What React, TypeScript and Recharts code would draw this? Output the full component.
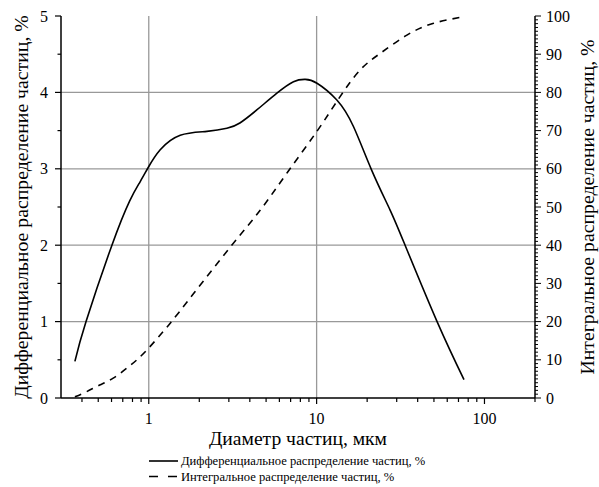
import { LineChart, Line, XAxis, YAxis, ReferenceLine } from "recharts";

// Particle size distribution: differential (left axis, %) and cumulative (right axis, %)
const FONT = "Liberation Serif";
const INK = "#000";
const GRID = "#999";

const diffSize = [0.363, 0.423, 0.601, 0.77, 0.888, 1.0, 1.17, 1.54, 2.22, 2.92, 3.49, 4.4, 5.8, 7.28, 8.56, 10.05, 13.2, 16.6, 21.3, 27.4, 33.8, 52.2, 75.5];
const diffPct = [0.48, 1.0, 1.99, 2.58, 2.83, 3.03, 3.25, 3.44, 3.49, 3.53, 3.6, 3.77, 3.99, 4.14, 4.17, 4.12, 3.9, 3.55, 2.98, 2.46, 1.99, 1.0, 0.24];

const intSize = [0.363, 0.426, 0.51, 0.614, 0.74, 0.848, 1.0, 1.32, 1.84, 3.06, 4.62, 6.66, 10, 13.8, 18.2, 23.9, 34.5, 49.8, 75.2];
const intPct = [0.3, 1.65, 3.4, 5.2, 7.8, 9.95, 13.1, 19.2, 27.2, 39.5, 49.2, 58.9, 69.7, 78.9, 85.9, 90.2, 95.0, 98.1, 99.8];

const X_MAJOR = [1, 10, 100];
const X_MINOR = [0.4, 0.5, 0.6, 0.7, 0.8, 0.9, 2, 3, 4, 5, 6, 7, 8, 9, 20, 30, 40, 50, 60, 70, 80, 90, 200];
const Y_LEFT_MAJOR = [0, 1, 2, 3, 4, 5];
const Y_LEFT_MINOR = [0.5, 1.5, 2.5, 3.5, 4.5];
const GRID_Y = [1, 2, 3, 4];
const GRID_X = [1, 10];

const LEFT_LABEL = "Дифференциальное распределение частиц, %";
const RIGHT_LABEL = "Интегральное распределение частиц, %";
const X_LABEL = "Диаметр частиц, мкм";
const LEGEND_DIFF = "Дифференциальное распределение частиц, %";
const LEGEND_INT = "Интегральное распределение частиц, %";

const diffData = diffSize.map((x, i) => ({ x, y: diffPct[i] }));
const intData = intSize.map((x, i) => ({ x, y: intPct[i] }));

const xTicks = [...X_MAJOR, ...X_MINOR].sort((a, b) => a - b);
const yLeftTicks = [...Y_LEFT_MAJOR, ...Y_LEFT_MINOR].sort((a, b) => a - b);
// right axis: small tick every 1 %, labelled every 10 %
const yRightTicks = Array.from({ length: 101 }, (_, i) => i);

function XTick(props: any) {
  const { x, y, payload } = props;
  const major = X_MAJOR.includes(payload.value);
  return (
    <g>
      <line x1={x} x2={x} y1={y} y2={y + (major ? 6 : 4)} stroke={INK} strokeWidth={1.2} />
      {major && (
        <text x={x} y={y + 20} textAnchor="middle" dominantBaseline="central" fontFamily={FONT} fontSize={16} fill={INK}>
          {payload.value}
        </text>
      )}
    </g>
  );
}

function LeftTick(props: any) {
  const { x, y, payload } = props;
  const major = Y_LEFT_MAJOR.includes(payload.value);
  return (
    <g>
      <line x1={x - (major ? 6 : 3.5)} x2={x} y1={y} y2={y} stroke={INK} strokeWidth={1.2} />
      {major && (
        <text x={x - 13} y={y} textAnchor="end" dominantBaseline="central" fontFamily={FONT} fontSize={16} fill={INK}>
          {payload.value}
        </text>
      )}
    </g>
  );
}

function RightTick(props: any) {
  const { x, y, payload } = props;
  const major = payload.value % 10 === 0;
  return (
    <g>
      <line x1={x} x2={x + (major ? 6 : 3)} y1={y} y2={y} stroke={INK} strokeWidth={1} />
      {major && (
        <text x={x + 11} y={y} textAnchor="start" dominantBaseline="central" fontFamily={FONT} fontSize={16} fill={INK}>
          {payload.value}
        </text>
      )}
    </g>
  );
}

const vLabel = (text: string, cx: number) => (props: any) => {
  const vb = props.viewBox;
  const cy = vb.y + vb.height / 2;
  return (
    <text
      x={cx}
      y={cy}
      transform={`rotate(-90 ${cx} ${cy})`}
      textAnchor="middle"
      dominantBaseline="central"
      fontFamily={FONT}
      fontSize={19.8}
      fill={INK}
    >
      {text}
    </text>
  );
};

const xLabel = (props: any) => {
  const vb = props.viewBox;
  return (
    <text x={vb.x + vb.width / 2} y={438} textAnchor="middle" dominantBaseline="central" fontFamily={FONT} fontSize={19.6} fill={INK}>
      {X_LABEL}
    </text>
  );
};

export default function App() {
  return (
    <div style={{ position: "absolute", left: 0, top: 0, width: 599, height: 487, background: "#fff" }}>
      <LineChart width={599} height={487} margin={{ top: 16, right: 0, bottom: 39, left: 0 }}>
        <XAxis
          dataKey="x"
          type="number"
          scale="log"
          domain={[0.3, 200]}
          allowDataOverflow
          ticks={xTicks}
          interval={0}
          tickSize={0}
          tickMargin={0}
          tick={<XTick />}
          height={50}
          axisLine={{ stroke: INK, strokeWidth: 1.5 }}
          label={{ content: xLabel }}
        />
        <YAxis
          yAxisId="left"
          domain={[0, 5]}
          ticks={yLeftTicks}
          interval={0}
          tickSize={0}
          tickMargin={0}
          tick={<LeftTick />}
          width={61}
          axisLine={{ stroke: INK, strokeWidth: 1.5 }}
          label={{ content: vLabel(LEFT_LABEL, 21) }}
        />
        <YAxis
          yAxisId="right"
          orientation="right"
          domain={[0, 100]}
          ticks={yRightTicks}
          interval={0}
          tickSize={0}
          tickMargin={0}
          tick={<RightTick />}
          width={64}
          axisLine={{ stroke: INK, strokeWidth: 1.5 }}
          label={{ content: vLabel(RIGHT_LABEL, 587) }}
        />
        {GRID_Y.map((v) => (
          <ReferenceLine key={`gy${v}`} y={v} yAxisId="left" stroke={GRID} strokeWidth={1.3} />
        ))}
        {GRID_X.map((v) => (
          <ReferenceLine key={`gx${v}`} x={v} yAxisId="left" stroke={GRID} strokeWidth={1.3} />
        ))}
        <Line
          data={diffData}
          dataKey="y"
          yAxisId="left"
          type="natural"
          stroke={INK}
          strokeWidth={1.6}
          dot={false}
          isAnimationActive={false}
        />
        <Line
          data={intData}
          dataKey="y"
          yAxisId="right"
          type="natural"
          stroke={INK}
          strokeWidth={1.6}
          strokeDasharray="7 6"
          dot={false}
          isAnimationActive={false}
        />
      </LineChart>
      <svg width={320} height={34} style={{ position: "absolute", left: 146, top: 452 }}>
        <line x1={3} x2={32} y1={9} y2={9} stroke={INK} strokeWidth={1.6} />
        <text x={35} y={9} dominantBaseline="central" fontFamily={FONT} fontSize={12.6} fill={INK}>
          {LEGEND_DIFF}
        </text>
        <line x1={3} x2={32} y1={24.5} y2={24.5} stroke={INK} strokeWidth={1.6} strokeDasharray="9 10" />
        <text x={35} y={24.5} dominantBaseline="central" fontFamily={FONT} fontSize={12.6} fill={INK}>
          {LEGEND_INT}
        </text>
      </svg>
    </div>
  );
}
